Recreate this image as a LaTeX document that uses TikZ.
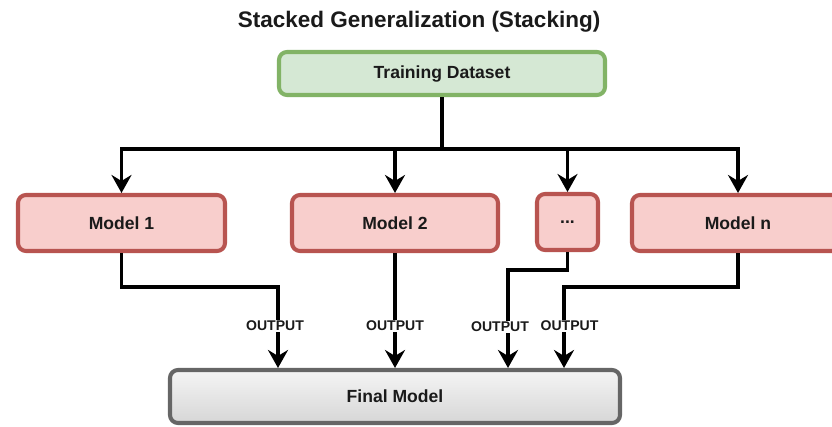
\documentclass[tikz,border=0pt]{standalone}
\usepackage{fontspec}
\setmainfont{Liberation Sans}
\usetikzlibrary{arrows.meta}
\definecolor{trainfill}{HTML}{D5E8D4}
\definecolor{traindraw}{HTML}{82B366}
\definecolor{modelfill}{HTML}{F8CECC}
\definecolor{modeldraw}{HTML}{B85450}
\definecolor{finaldraw}{HTML}{666666}
\definecolor{txt}{HTML}{1A1A1A}
\begin{document}
\begin{tikzpicture}[
  font=\bfseries, text=txt,
  box/.style={rounded corners=0.16cm, line width=2.3pt, minimum height=1.12cm, align=center, font=\fontsize{10}{12}\bfseries\selectfont},
  train/.style={box, draw=traindraw, fill=trainfill, minimum width=6.52cm, minimum height=0.86cm},
  model/.style={box, draw=modeldraw, fill=modelfill, minimum width=4.14cm},
  final/.style={box, draw=finaldraw, top color=gray!8, bottom color=gray!32, minimum width=9cm, minimum height=1.06cm},
  arr/.style={line width=2pt, -{Stealth[length=0.36cm, width=0.4cm, inset=0.12cm]}},
  outlbl/.style={fill=white, inner sep=0.5pt, font=\fontsize{8}{9}\bfseries\selectfont}
]
  \useasboundingbox (0,0) rectangle (16.64,-8.52);
  \clip (0,0) rectangle (16.64,-8.52);
  \node[font=\fontsize{12.8}{15}\bfseries\selectfont] (title) at (8.38,-0.44) {Stacked Generalization (Stacking)};
  \node[train] (train) at (8.84,-1.47) {Training Dataset};
  \node[model] (m1) at (2.43,-4.46) {Model 1};
  \node[model, minimum width=4.12cm] (m2) at (7.9,-4.46) {Model 2};
  \node[model, minimum width=1.22cm] (dots) at (11.35,-4.44) {...};
  \node[model, minimum width=4.24cm] (mn) at (14.76,-4.46) {Model n};
  \node[final] (final) at (7.9,-7.93) {Final Model};

  \coordinate (split) at (8.84,-2.98);
  \draw[line width=2pt] (train) -- (split);
  \draw[arr] (split) -| (m1);
  \draw[arr] (split) -| (m2);
  \draw[arr] (split) -| (dots);
  \draw[arr] (split) -| (mn);

  \draw[arr] (m1.south) -- ++(0,-0.68) -| node[outlbl, pos=0.74, xshift=-0.06cm] {OUTPUT} ([xshift=-2.34cm]final.north);
  \draw[arr] (m2.south) -- node[outlbl, pos=0.635] {OUTPUT} (final.north);
  \draw[arr] (dots.south) -- ++(0,-0.36) -| node[outlbl, pos=0.79, xshift=-0.16cm] {OUTPUT} ([xshift=2.26cm]final.north);
  \draw[arr] (mn.south) -- ++(0,-0.68) -| node[outlbl, pos=0.74, xshift=0.11cm] {OUTPUT} ([xshift=3.38cm]final.north);
\end{tikzpicture}
\end{document}
